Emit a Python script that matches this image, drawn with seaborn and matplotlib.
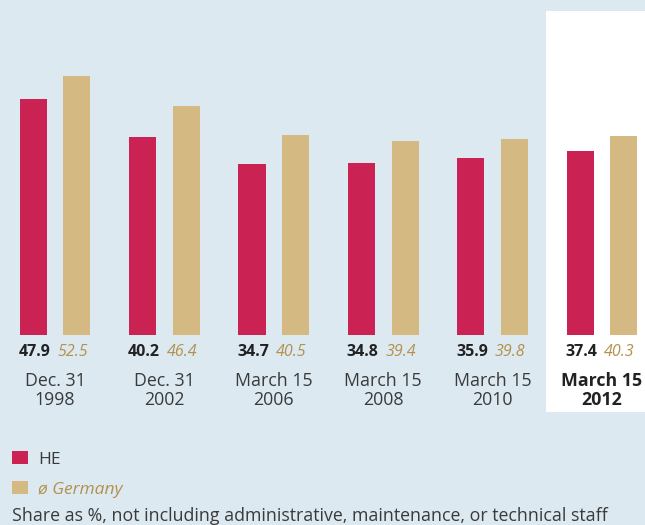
import seaborn as sns
import matplotlib.pyplot as plt
import pandas as pd
from matplotlib.patches import Rectangle

categories = ["Dec. 31\n1998", "Dec. 31\n2002", "March 15\n2006",
              "March 15\n2008", "March 15\n2010", "March 15\n2012"]
he_values = [47.9, 40.2, 34.7, 34.8, 35.9, 37.4]
germany_values = [52.5, 46.4, 40.5, 39.4, 39.8, 40.3]
series_names = ["HE", "ø Germany"]

BG = "#dce9f1"
HE_COLOR = "#c92253"
DE_COLOR = "#d4b983"
DE_TEXT = "#b3914c"
DARK = "#222222"
GREY = "#3a3a3a"

df = pd.DataFrame({
    "date": categories * 2,
    "share": he_values + germany_values,
    "series": [series_names[0]] * len(categories) + [series_names[1]] * len(categories),
})

sns.set_style("white")
plt.rcParams["font.family"] = ["Open Sans", "DejaVu Sans"]

fig = plt.figure(figsize=(6.45, 5.25), dpi=100, facecolor=BG)
# white highlight panel behind the latest date
fig.patches.append(Rectangle((546 / 645, 113 / 525), 0.2, 401 / 525,
                             transform=fig.transFigure, facecolor="white",
                             edgecolor="none", zorder=0))

ax = fig.add_axes([0, 190 / 525, 1, 335 / 525])
ax.set_zorder(2)
ax.set_facecolor("none")
sns.barplot(data=df, x="date", y="share", hue="series",
            palette=[HE_COLOR, DE_COLOR], width=0.8, gap=0.38,
            saturation=1, linewidth=0, ax=ax)

ax.set_xlim(-0.503, 5.393)
ax.set_ylim(0, 67.95)
ax.set_axis_off()

# value labels under the bars
n = len(categories)
for i, p in enumerate(ax.patches[:2 * n]):
    cx = p.get_x() + p.get_width() / 2
    if i < n:
        ax.text(cx + 0.01, -3.45, f"{he_values[i]:.1f}", ha="center", va="center",
                fontsize=11.5, fontweight="bold", color=DARK, clip_on=False)
    else:
        ax.text(cx - 0.04, -3.45, f"{germany_values[i - n]:.1f}", ha="center",
                va="center", fontsize=11.5, style="italic", color=DE_TEXT,
                clip_on=False)

# category labels
for i, lab in enumerate(categories):
    last = i == n - 1
    ax.text(i, -11.2, lab, ha="center", va="center", fontsize=12.8,
            linespacing=1.05, color=DARK if last else GREY,
            fontweight="bold" if last else "normal", clip_on=False)

sns.move_legend(ax, "upper left", bbox_to_anchor=(12 / 645, 74 / 525),
                bbox_transform=fig.transFigure, frameon=False, title=None,
                fontsize=12.5, handlelength=0.9, handleheight=0.8,
                handletextpad=0.6, labelspacing=0.78, borderpad=0,
                borderaxespad=0)
leg = ax.get_legend()
texts = leg.get_texts()
texts[0].set_color(GREY)
texts[1].set_color(DE_TEXT)
texts[1].set_style("italic")

fig.text(12 / 645, 9 / 525, "Share as %, not including administrative, maintenance, or technical staff",
         ha="left", va="center", fontsize=12.8, color=GREY)

plt.savefig("out.png", dpi=100, facecolor=BG)
plt.close()
